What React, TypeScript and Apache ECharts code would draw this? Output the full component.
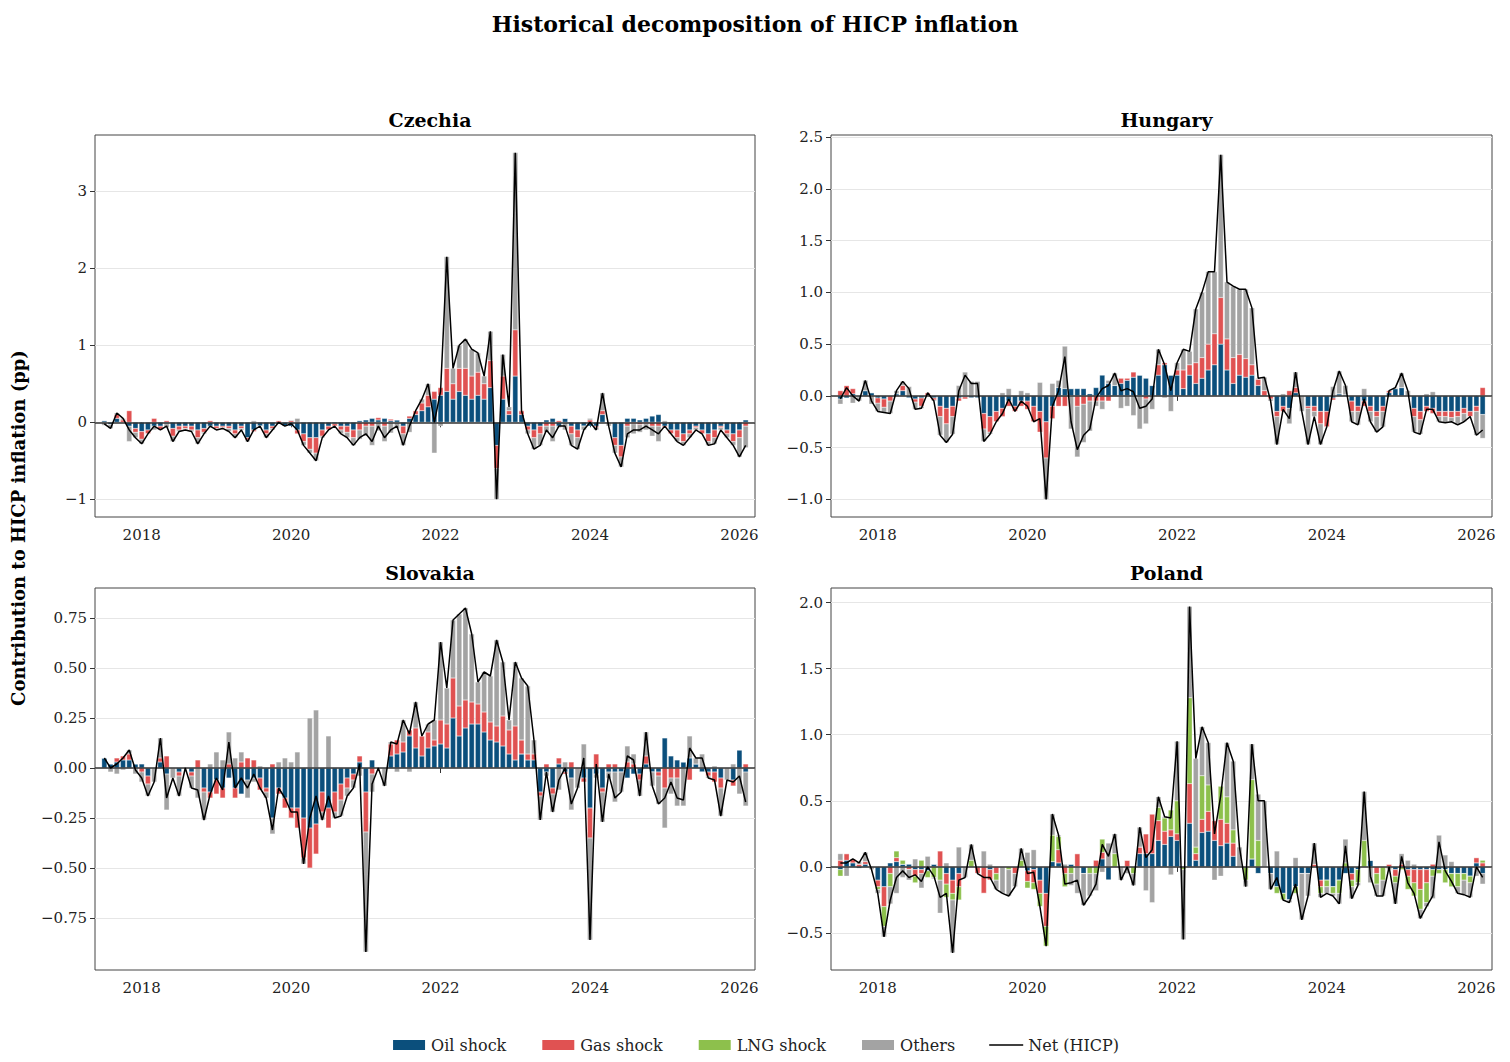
import React, { useEffect, useRef } from "react";
import * as echarts from "echarts";

const START_YEAR = 2017;
const START_MONTH = 6; // July (0-based)
const N = 104;

const czNet = [-0.02,-0.08,0.12,0.05,-0.1,-0.2,
-0.28,-0.15,-0.05,-0.1,-0.05,-0.25,-0.12,-0.1,-0.12,-0.28,-0.15,-0.05,
-0.1,-0.08,-0.12,-0.2,-0.1,-0.25,-0.1,-0.05,-0.2,-0.1,0.0,-0.05,
-0.02,-0.1,-0.3,-0.4,-0.5,-0.2,-0.1,-0.05,-0.15,-0.2,-0.3,-0.2,
-0.15,-0.25,-0.05,-0.2,-0.1,-0.05,-0.3,-0.05,0.15,0.3,0.5,0.0,
0.4,2.15,0.7,1.0,1.08,0.95,0.9,0.6,1.18,-1.0,0.88,0.2,
3.5,0.15,-0.15,-0.35,-0.3,-0.1,-0.2,-0.05,-0.05,-0.3,-0.35,-0.1,
0.0,-0.1,0.38,-0.05,-0.4,-0.58,-0.15,-0.1,-0.1,-0.05,-0.1,-0.15,
-0.05,-0.15,-0.25,-0.3,-0.2,-0.1,-0.15,-0.3,-0.28,-0.1,-0.2,-0.3,
-0.45,-0.3];
const czOil = [0.02,-0.03,0.05,0.0,-0.05,-0.08,
-0.12,-0.1,-0.05,-0.05,-0.02,-0.08,-0.05,-0.05,-0.05,-0.1,-0.08,-0.05,
-0.05,-0.05,-0.05,-0.1,-0.05,-0.2,-0.1,-0.05,-0.1,-0.05,-0.02,-0.05,
-0.05,-0.1,-0.15,-0.2,-0.2,-0.1,-0.05,-0.02,-0.05,-0.05,-0.1,0.02,
0.03,0.05,0.03,0.05,0.02,0.03,-0.05,0.05,0.1,0.15,0.2,0.3,
0.35,0.4,0.3,0.4,0.35,0.3,0.35,0.3,0.45,-0.3,0.3,0.1,
0.6,0.1,-0.05,-0.1,-0.05,0.03,0.05,-0.05,0.05,-0.05,-0.1,-0.05,
-0.05,-0.05,0.1,0.0,-0.2,-0.3,0.05,0.05,0.03,0.05,0.08,0.1,
-0.05,-0.1,-0.1,-0.15,-0.1,-0.05,-0.1,-0.15,-0.1,-0.05,-0.1,-0.15,
-0.1,0.03];
const czGas = [0.0,0.0,0.05,0.03,0.15,-0.05,
-0.1,-0.05,0.05,-0.05,0.02,-0.1,-0.05,-0.03,-0.05,-0.1,-0.05,0.02,
-0.03,-0.02,-0.03,-0.05,-0.03,-0.03,-0.02,0.0,-0.05,-0.03,0.02,0.0,
0.02,-0.05,-0.1,-0.15,-0.2,-0.08,-0.05,-0.03,-0.05,-0.08,-0.1,-0.1,
-0.05,-0.05,0.03,-0.05,0.02,0.0,-0.1,0.03,0.05,0.1,0.15,0.1,
0.1,0.3,0.2,0.3,0.35,0.3,0.3,0.2,0.35,-0.3,0.3,0.05,
0.6,0.05,-0.05,-0.1,-0.1,-0.05,-0.05,0.02,0.0,-0.1,-0.1,0.0,
0.03,-0.02,0.05,0.0,-0.1,-0.15,-0.05,-0.02,-0.03,-0.02,-0.05,-0.05,
-0.02,-0.05,-0.1,-0.1,-0.05,-0.02,-0.05,-0.1,-0.1,-0.02,-0.05,-0.1,
-0.1,-0.05];

const huNet = [-0.03,0.08,0.0,-0.05,0.15,-0.05,
-0.15,-0.16,-0.17,0.05,0.14,0.07,-0.13,-0.12,0.03,-0.05,-0.38,-0.45,
-0.37,0.05,0.2,0.12,0.12,-0.44,-0.37,-0.25,-0.17,-0.03,-0.15,-0.05,
-0.1,-0.25,-0.22,-1.0,-0.1,0.05,0.38,-0.25,-0.52,-0.38,-0.32,-0.02,
0.07,0.1,0.22,0.05,0.07,0.04,-0.12,-0.1,-0.03,0.45,0.3,0.05,
0.32,0.45,0.43,0.84,1.0,1.2,1.2,2.33,1.1,1.06,1.03,1.03,
0.85,0.17,0.18,-0.05,-0.47,-0.13,-0.22,0.23,-0.15,-0.47,-0.2,-0.47,
-0.3,0.05,0.24,0.1,-0.25,-0.28,-0.03,-0.25,-0.35,-0.3,0.05,0.08,
0.22,0.05,-0.35,-0.37,-0.13,-0.13,-0.25,-0.26,-0.25,-0.28,-0.25,-0.2,
-0.38,-0.33];
const huOil = [-0.03,-0.02,0.02,-0.01,0.05,0.03,
-0.02,-0.03,0.0,0.02,0.05,-0.02,-0.03,-0.02,0.0,-0.02,-0.1,-0.12,
-0.1,-0.02,-0.01,-0.02,-0.02,-0.17,-0.2,-0.15,-0.12,-0.05,-0.1,-0.05,
-0.05,-0.1,-0.15,-0.25,-0.1,0.08,0.07,0.07,0.07,0.07,0.02,0.08,
0.2,0.12,0.1,0.12,0.15,0.18,0.2,0.17,0.1,0.2,0.3,0.2,
0.2,0.07,0.2,0.12,0.17,0.25,0.3,0.5,0.25,0.12,0.2,0.18,
0.2,0.1,0.0,0.0,-0.15,-0.1,-0.12,0.03,0.0,-0.1,-0.1,-0.15,
-0.15,-0.02,0.02,0.01,-0.05,-0.1,-0.05,-0.1,-0.15,-0.1,0.03,0.07,
0.08,0.0,-0.12,-0.15,-0.1,-0.12,-0.15,-0.15,-0.15,-0.15,-0.12,-0.15,
-0.1,-0.18];
const huGas = [0.05,0.1,0.05,0.0,0.0,0.0,
-0.05,-0.08,-0.05,0.0,0.05,0.0,-0.03,-0.08,0.03,-0.02,-0.1,-0.15,
-0.1,-0.03,-0.02,0.0,0.0,-0.15,-0.15,-0.1,-0.08,-0.05,-0.05,-0.05,
-0.08,-0.15,-0.2,-0.35,-0.12,-0.1,-0.1,0.0,-0.1,-0.08,-0.05,-0.05,
-0.05,-0.05,0.0,0.05,0.02,0.05,0.0,-0.03,0.0,0.1,0.02,0.0,
0.05,0.18,0.1,0.2,0.2,0.25,0.3,0.45,0.3,0.25,0.2,0.18,
0.1,0.06,0.05,-0.03,-0.05,-0.05,0.05,0.05,0.0,-0.02,-0.05,-0.12,
-0.15,-0.02,0.0,0.0,-0.1,-0.05,-0.05,-0.05,-0.05,-0.05,0.02,0.0,
0.0,0.0,-0.08,-0.08,-0.05,-0.05,-0.05,-0.05,-0.06,-0.05,-0.05,-0.05,
-0.05,0.08];

const skNet = [0.05,0.0,0.02,0.05,0.09,-0.01,
-0.05,-0.14,-0.07,0.15,-0.15,-0.05,-0.14,0.0,-0.1,-0.11,-0.26,-0.13,
-0.05,-0.11,0.13,-0.1,-0.05,-0.1,-0.03,-0.1,-0.15,-0.31,-0.1,-0.15,
-0.22,-0.22,-0.48,-0.25,-0.14,-0.26,-0.14,-0.25,-0.24,-0.14,-0.1,0.02,
-0.92,-0.08,0.0,-0.09,0.13,0.12,0.24,0.17,0.33,0.16,0.22,0.24,
0.63,0.4,0.74,0.77,0.8,0.67,0.43,0.48,0.46,0.64,0.53,0.24,
0.53,0.45,0.41,0.14,-0.26,-0.02,-0.22,-0.06,0.0,-0.18,-0.1,0.05,
-0.86,0.02,-0.27,-0.03,-0.15,-0.12,0.06,0.04,-0.14,0.18,-0.09,-0.18,
-0.15,-0.07,-0.15,-0.16,0.1,0.05,0.05,-0.05,-0.06,-0.24,-0.06,-0.07,
-0.04,-0.17];
const skOil = [0.05,0.02,0.03,0.04,0.04,0.02,
0.02,-0.04,0.0,0.03,-0.03,0.0,-0.02,0.0,-0.02,0.0,-0.1,-0.12,
-0.06,-0.1,-0.05,-0.1,-0.13,-0.06,-0.05,-0.05,-0.1,-0.25,-0.1,-0.15,
-0.2,-0.2,-0.25,-0.3,-0.28,-0.12,-0.2,-0.12,-0.08,-0.05,-0.03,0.03,
-0.12,0.04,0.0,0.0,0.06,0.07,0.08,0.16,0.1,0.06,0.1,0.11,
0.12,0.1,0.25,0.16,0.2,0.22,0.22,0.18,0.14,0.13,0.11,0.07,
0.04,0.07,0.04,0.04,-0.12,-0.02,-0.1,0.02,-0.02,-0.05,0.0,-0.05,
-0.2,-0.03,-0.1,-0.02,-0.02,-0.02,-0.05,-0.03,-0.03,0.02,-0.02,-0.02,
0.15,0.06,0.04,0.03,0.05,0.02,-0.02,-0.02,-0.02,-0.05,0.0,-0.06,
0.09,-0.02];
const skGas = [0.0,0.0,0.02,0.02,0.03,0.0,
-0.02,-0.04,0.0,0.02,0.06,0.0,-0.02,0.0,-0.02,0.04,-0.02,-0.03,
-0.07,-0.05,0.02,-0.05,0.03,0.05,0.04,-0.06,-0.02,0.02,-0.03,-0.05,
-0.05,-0.1,-0.2,-0.2,-0.15,-0.1,-0.1,-0.1,-0.08,-0.05,-0.03,0.03,
-0.2,-0.03,0.0,0.0,0.06,0.07,0.05,0.03,0.1,0.1,0.08,0.03,
0.12,0.12,0.2,0.15,0.14,0.11,0.1,0.1,0.09,0.08,0.15,0.12,
0.17,0.07,0.03,0.03,-0.02,0.02,-0.03,0.03,-0.01,0.03,0.0,-0.02,
-0.15,0.07,-0.02,0.02,0.02,0.0,0.03,0.02,-0.03,0.04,0.0,-0.02,
-0.1,-0.05,-0.05,0.0,-0.06,0.0,0.0,-0.02,-0.05,-0.05,0.0,-0.03,
0.0,0.02];

const plNet = [0.03,0.03,0.06,0.03,0.11,-0.02,
-0.2,-0.53,-0.25,-0.08,-0.03,-0.08,-0.06,-0.11,0.0,-0.07,-0.23,-0.2,
-0.65,-0.1,-0.08,0.17,-0.05,-0.08,-0.08,-0.17,-0.2,-0.22,-0.15,0.14,
-0.05,-0.04,-0.3,-0.6,0.4,0.24,-0.13,-0.12,-0.1,-0.29,-0.22,-0.13,
0.17,0.08,0.25,-0.1,0.0,-0.14,0.3,0.07,0.13,0.53,0.38,0.37,
0.95,-0.55,1.97,0.82,1.06,0.94,0.25,0.54,0.94,0.8,0.15,-0.15,
0.93,0.5,0.5,-0.17,-0.08,-0.25,-0.27,-0.13,-0.4,-0.22,0.18,-0.23,
-0.2,-0.22,-0.28,0.16,-0.24,-0.14,0.57,-0.07,-0.22,-0.22,0.0,-0.28,
0.08,-0.12,-0.2,-0.39,-0.3,-0.22,0.19,-0.03,-0.11,-0.2,-0.21,-0.23,
0.0,-0.08];
const plOil = [-0.02,0.05,0.03,-0.01,0.02,0.0,
-0.1,-0.15,0.03,0.04,0.02,0.02,-0.02,-0.02,-0.03,0.02,0.0,-0.05,
-0.1,-0.05,0.0,0.0,0.0,0.0,-0.02,0.0,0.0,0.0,0.0,0.0,
-0.03,-0.02,-0.1,-0.2,0.04,0.03,0.0,0.02,0.0,-0.05,0.0,0.0,
0.06,-0.1,0.0,0.0,0.0,0.0,0.1,0.1,0.1,0.2,0.17,0.23,
0.2,0.0,0.33,0.05,0.26,0.27,0.2,0.16,0.18,0.08,0.0,0.0,
0.06,-0.05,0.0,-0.05,-0.15,-0.2,-0.25,-0.15,-0.05,-0.05,0.0,-0.1,
-0.1,-0.15,-0.1,-0.05,-0.05,-0.02,0.0,0.05,0.0,0.0,0.0,-0.02,
0.0,-0.02,-0.02,-0.02,-0.02,-0.02,-0.02,-0.02,-0.05,-0.05,-0.05,-0.07,
0.03,-0.05];
const plGas = [0.05,0.05,0.03,0.02,0.02,0.0,
-0.05,-0.15,-0.05,0.03,0.0,-0.02,-0.05,-0.03,0.0,0.0,0.12,-0.08,
-0.1,-0.1,0.0,0.0,-0.05,-0.2,-0.08,-0.05,0.0,0.0,-0.05,0.0,
-0.08,-0.1,-0.1,-0.25,0.0,0.1,-0.05,0.0,0.1,0.0,0.0,0.05,
0.05,0.0,0.0,0.0,0.05,0.0,0.05,0.15,0.3,0.15,0.1,0.05,
0.05,0.0,0.3,0.05,0.1,0.15,0.15,0.2,0.15,0.1,0.0,0.0,
0.0,0.0,0.0,0.0,0.0,0.0,0.0,0.0,0.0,0.0,0.02,-0.05,
0.0,0.0,0.0,0.0,-0.05,0.0,0.0,0.0,-0.05,0.0,0.02,-0.05,
0.02,-0.05,-0.1,-0.15,-0.1,0.02,0.0,0.0,0.0,0.0,0.0,0.0,
0.04,0.03];
const plLng = [-0.05,0.0,0.0,0.0,0.0,0.0,
-0.02,-0.15,-0.1,0.05,0.03,0.0,-0.05,0.05,-0.05,-0.08,-0.1,-0.1,
-0.05,-0.1,0.0,0.05,0.0,0.0,0.0,-0.05,0.0,-0.02,0.0,0.05,
-0.05,-0.05,-0.1,-0.15,0.2,0.1,-0.1,-0.05,0.0,0.0,-0.05,-0.05,
0.1,0.0,0.1,0.0,0.0,-0.05,0.0,0.0,0.0,0.1,0.1,0.15,
0.25,-0.02,0.65,0.05,0.33,0.2,0.0,0.25,0.2,0.1,0.0,-0.1,
0.6,0.2,0.0,0.0,-0.05,-0.05,0.0,-0.05,0.0,0.0,0.0,-0.05,
-0.05,-0.05,-0.1,0.03,-0.05,-0.1,0.2,0.0,-0.08,-0.1,0.0,-0.05,
-0.02,-0.1,-0.1,-0.15,-0.15,-0.05,-0.03,-0.1,-0.1,-0.1,-0.05,-0.05,
0.0,0.02];

const xTickYears = [2018, 2020, 2022, 2024, 2026];
const panels = [
  { name: "Czechia", net: czNet, oil: czOil, gas: czGas, lng: null as number[] | null, min: -1.23, max: 3.73, ticks: [-1, 0, 1, 2, 3], dec: 0 },
  { name: "Hungary", net: huNet, oil: huOil, gas: huGas, lng: null as number[] | null, min: -1.17, max: 2.52, ticks: [-1, -0.5, 0, 0.5, 1, 1.5, 2, 2.5], dec: 1 },
  { name: "Slovakia", net: skNet, oil: skOil, gas: skGas, lng: null as number[] | null, min: -1.01, max: 0.9, ticks: [-0.75, -0.5, -0.25, 0, 0.25, 0.5, 0.75], dec: 2 },
  { name: "Poland", net: plNet, oil: plOil, gas: plGas, lng: plLng as number[] | null, min: -0.78, max: 2.11, ticks: [-0.5, 0, 0.5, 1, 1.5, 2], dec: 1 },
];

const COLORS = { oil: "#0b4f7c", gas: "#e05252", lng: "#8dc04c", others: "#a3a3a3" };
const FONT = "DejaVu Serif";

export default function App() {
  const ref = useRef<HTMLDivElement>(null);
  useEffect(() => {
    const chart = echarts.init(ref.current!, undefined, { renderer: "svg" });
    // categories: one padding month before, 104 data months, one padding month after
    const cats: string[] = [];
    for (let i = -1; i <= N; i++) {
      const m = START_MONTH + i;
      const y = START_YEAR + Math.floor(m / 12);
      const mm = ((m % 12) + 12) % 12;
      cats.push(`${y}-${String(mm + 1).padStart(2, "0")}`);
    }
    const isTick = (idx: number) => {
      const c = cats[idx];
      return c.endsWith("-01") && xTickYears.includes(Number(c.slice(0, 4)));
    };
    const pad = (arr: (number | null)[]) => [null, ...arr, null];
    const O = 8;
    const gridPos = [
      { left: 95 - O, top: 135 - O, width: 660, height: 382 },
      { left: 831 - O, top: 135 - O, width: 661, height: 382 },
      { left: 95 - O, top: 588 - O, width: 660, height: 382 },
      { left: 831 - O, top: 588 - O, width: 661, height: 382 },
    ];
    const grids = gridPos.map((g) => ({ ...g, show: true, borderColor: "#444", borderWidth: 1, backgroundColor: "transparent" }));
    const xAxes = panels.map((p, i) => ({
      type: "category", gridIndex: i, data: cats, boundaryGap: true,
      axisLine: { show: false },
      axisTick: { show: true, alignWithLabel: true, interval: (idx: number) => isTick(idx), length: 5, lineStyle: { color: "#333" } },
      axisLabel: { interval: (idx: number) => isTick(idx), fontFamily: FONT, fontSize: 15, color: "#222", margin: 10, formatter: (v: string) => v.slice(0, 4) },
      splitLine: { show: false },
    }));
    const yAxes = panels.map((p, i) => ({
      type: "value", gridIndex: i, min: p.min, max: p.max,
      axisLine: { show: false },
      axisTick: { show: true, customValues: p.ticks, length: 5, lineStyle: { color: "#333" } },
      axisLabel: { customValues: p.ticks, fontFamily: FONT, fontSize: 15, color: "#222", margin: 8,
        formatter: (v: number) => (v < 0 ? "\u2212" : "") + Math.abs(v).toFixed(p.dec) },
      splitLine: { show: true, lineStyle: { color: "#e6e6e6", width: 1.2 } },
    }));
    const series: any[] = [];
    const r = (v: number) => Math.round(v * 1000) / 1000;
    panels.forEach((p, i) => {
      const others = p.net.map((v, k) => r(v - p.oil[k] - p.gas[k] - (p.lng ? p.lng[k] : 0)));
      const bar = (name: string, vals: number[]) => ({
        type: "bar", name, xAxisIndex: i, yAxisIndex: i, stack: "s" + i, barWidth: 5.2,
        itemStyle: { color: (COLORS as any)[name === "Oil shock" ? "oil" : name === "Gas shock" ? "gas" : name === "LNG shock" ? "lng" : "others"], borderColor: "#fff", borderWidth: 0.3 },
        data: pad(vals),
      });
      series.push(bar("Oil shock", p.oil));
      series.push(bar("Gas shock", p.gas));
      if (p.lng) series.push(bar("LNG shock", p.lng));
      const o = bar("Others", others) as any;
      o.markLine = { silent: true, symbol: "none", label: { show: false }, lineStyle: { color: "#333", width: 1.5, type: "solid" }, data: [{ yAxis: 0 }] };
      series.push(o);
      series.push({
        type: "line", name: "Net (HICP)", xAxisIndex: i, yAxisIndex: i, symbol: "none", z: 5, connectNulls: false,
        lineStyle: { color: "#000", width: 1.5 }, itemStyle: { color: "#000" },
        data: pad(p.net),
      });
    });
    chart.setOption({
      animation: false,
      backgroundColor: "#fff",
      title: [
        { text: "Historical decomposition of HICP inflation", left: "center", top: 0, textStyle: { fontFamily: FONT, fontSize: 22, fontWeight: "bold", color: "#000" } },
        ...panels.map((p, i) => ({
          text: p.name, left: gridPos[i].left + gridPos[i].width / 2, textAlign: "center", top: gridPos[i].top - 30,
          textStyle: { fontFamily: FONT, fontSize: 19, fontWeight: "bold", color: "#000" },
        })),
      ],
      legend: {
        top: 1024, left: "center", itemWidth: 34, itemHeight: 12, itemGap: 34,
        textStyle: { fontFamily: FONT, fontSize: 16, color: "#222" },
        data: [
          { name: "Oil shock", icon: "rect" },
          { name: "Gas shock", icon: "rect" },
          { name: "LNG shock", icon: "rect" },
          { name: "Others", icon: "rect" },
          { name: "Net (HICP)", icon: "path://M0,5 L40,5 L40,6.5 L0,6.5 Z" },
        ],
      },
      graphic: [{
        type: "text", x: 10, y: 520, rotation: Math.PI / 2,
        style: { text: "Contribution to HICP inflation (pp)", font: `bold 18px '${FONT}'`, fill: "#000", align: "center", verticalAlign: "middle" },
      }],
      grid: grids, xAxis: xAxes, yAxis: yAxes, series,
    } as any);
    return () => chart.dispose();
  }, []);
  return <div ref={ref} style={{ width: 1494, height: 1054 }} />;
}
